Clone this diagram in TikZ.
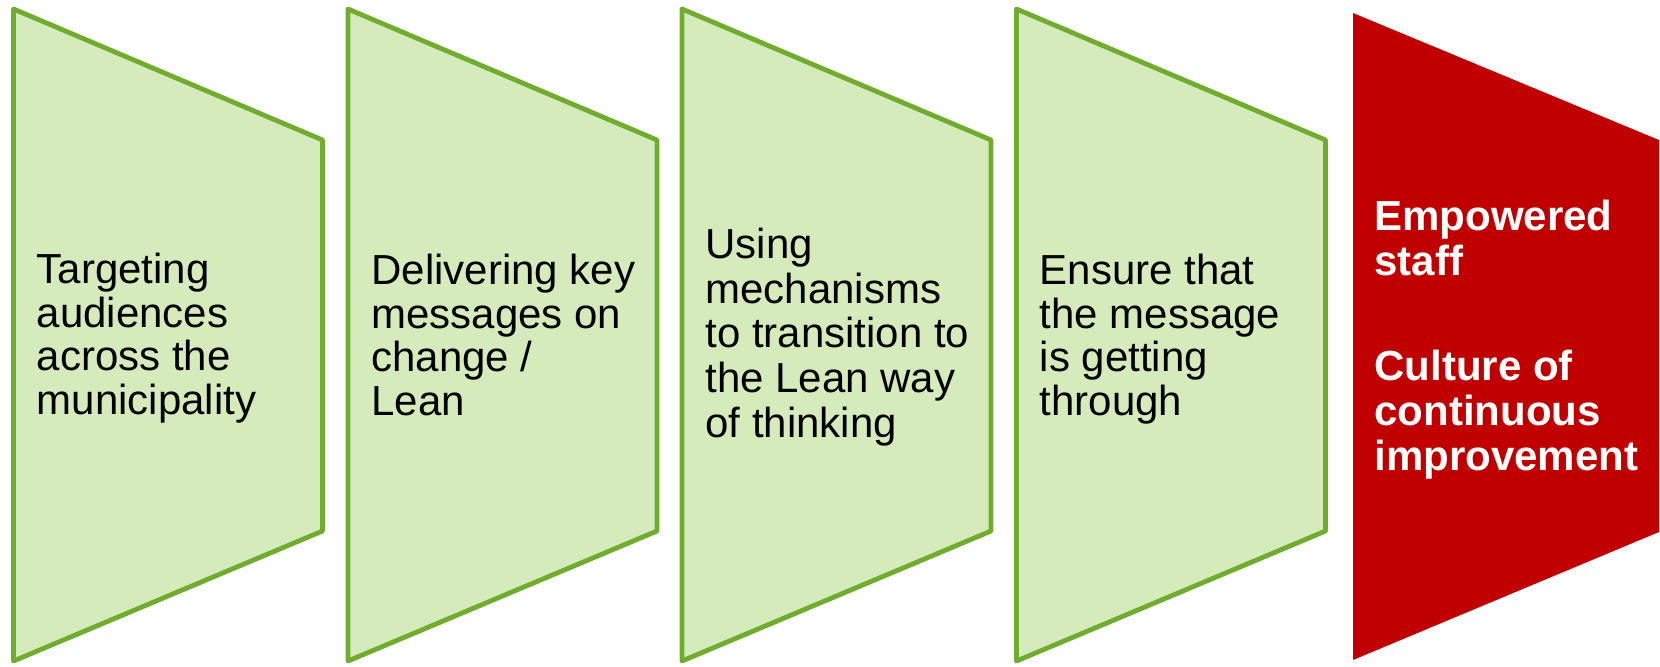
\documentclass[tikz,border=0pt]{standalone}
\usepackage{fontspec}
\setmainfont{Liberation Sans}
\definecolor{stepfill}{HTML}{D5EBBC}
\definecolor{stepline}{HTML}{70AD2F}
\definecolor{goalred}{HTML}{C00000}
\begin{document}
\begin{tikzpicture}[x=0.5pt,y=-0.5pt,
  stepshape/.style={fill=stepfill,draw=stepline,line width=2.4pt,line join=round},
  goalshape/.style={fill=goalred},
  % labels are anchored at the baseline of their last line
  steptext/.style={anchor=base west,inner sep=0pt,align=left,text=black,
    font=\fontsize{21pt}{21.75pt}\selectfont},
  goaltext/.style={anchor=base west,inner sep=0pt,align=left,text=white,
    font=\fontsize{21pt}{22.5pt}\selectfont\bfseries}]
\useasboundingbox (0,0) rectangle (1660,666);
% four process steps, each a panel that narrows towards its right side
\foreach \l in {13.5,348,682,1016.5}{
  \path[stepshape] (\l,9) -- (\l+309,140) -- (\l+309,531) -- (\l,661) -- cycle;
}
% final outcome panel
\path[goalshape] (1353,13) -- (1659,140) -- (1659,532) -- (1353,660) -- cycle;
% step labels
\node[steptext] (s1) at (36.5,414) {Targeting\\audiences\\across the\\municipality};
\node[steptext] (s2) at (371,415) {Delivering key\\messages on\\change /\\Lean};
\node[steptext,font=\fontsize{21pt}{22.3pt}\selectfont] (s3) at (705,437) {Using\\mechanisms\\to transition to\\the Lean way\\of thinking};
\node[steptext] (s4) at (1039.5,415) {Ensure that\\the message\\is getting\\through};
% outcome label
\node[goaltext] (g) at (1374,470) {Empowered\\staff\\[30pt]Culture of\\continuous\\improvement};
\end{tikzpicture}
\end{document}
